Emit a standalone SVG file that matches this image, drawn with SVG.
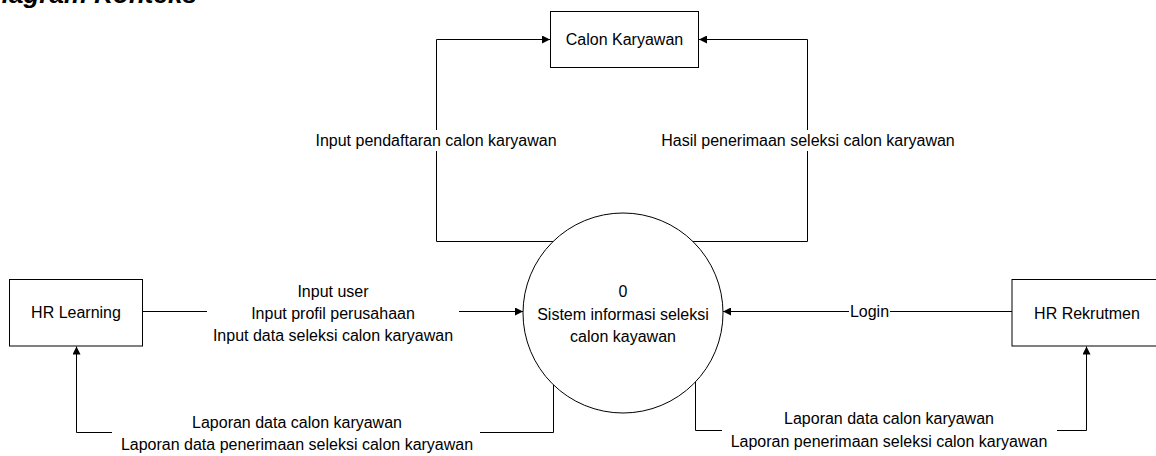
<svg xmlns="http://www.w3.org/2000/svg" width="1156" height="456" viewBox="0 0 1156 456">
<style>
text{font-family:"Liberation Sans",Arial,sans-serif;font-size:16px;fill:#000;text-anchor:middle}
.title{font-size:26px;font-weight:bold;font-style:italic;text-anchor:start}
.box{fill:#fff;stroke:#000;stroke-width:1}
.edge{fill:none;stroke:#000;stroke-width:1}
.bg{fill:#fff;stroke:none}
</style>
<defs>
<marker id="arr" viewBox="0 0 10 10" refX="10" refY="5" markerWidth="9" markerHeight="8" markerUnits="userSpaceOnUse" orient="auto">
<path d="M0,0 L10,5 L0,10 z" fill="#000"/>
</marker>
</defs>
<rect width="1156" height="456" fill="#fff"/>
<text class="title" x="-17" y="3">Diagram Konteks</text>
<g id="connectors">
<path class="edge" d="M143,311.5 H523" marker-end="url(#arr)"/>
<rect class="bg" x="207" y="280" width="252" height="66"/>
<text x="333" y="297">Input user</text>
<text x="333" y="319">Input profil perusahaan</text>
<text x="333" y="341">Input data seleksi calon karyawan</text>

<path class="edge" d="M553.5,384 V432.5 H76.5 V346.5" marker-end="url(#arr)"/>
<rect class="bg" x="112" y="414" width="368" height="42"/>
<text x="297" y="428">Laporan data calon karyawan</text>
<text x="297" y="450">Laporan data penerimaan seleksi calon karyawan</text>

<path class="edge" d="M1012,311.5 H723" marker-end="url(#arr)"/>
<rect class="bg" x="849" y="302" width="41" height="18"/>
<text x="869.5" y="317">Login</text>

<path class="edge" d="M695.5,382 V430.5 H1086.5 V346.5" marker-end="url(#arr)"/>
<rect class="bg" x="722" y="410" width="335" height="42"/>
<text x="889" y="424">Laporan data calon karyawan</text>
<text x="889" y="446.5">Laporan penerimaan  seleksi calon karyawan</text>

<path class="edge" d="M554,241.5 H436.5 V39.5 H550" marker-end="url(#arr)"/>
<rect class="bg" x="306" y="130" width="260" height="21"/>
<text x="436" y="146">Input pendaftaran calon karyawan</text>

<path class="edge" d="M692,241.5 H807.5 V39.5 H699" marker-end="url(#arr)"/>
<rect class="bg" x="654" y="130" width="308" height="21"/>
<text x="808" y="146">Hasil penerimaan seleksi calon karyawan</text>
</g>
<g id="calon-karyawan">
<rect class="box" x="550.5" y="11.5" width="148" height="56"/>
<text x="624.5" y="45">Calon Karyawan</text>
</g>
<g id="hr-learning">
<rect class="box" x="9.5" y="279.5" width="133" height="66.5"/>
<text x="76" y="318">HR Learning</text>
</g>
<g id="hr-rekrutmen">
<rect class="box" x="1012" y="279.5" width="150" height="66.5"/>
<text x="1087" y="319">HR Rekrutmen</text>
</g>
<g id="sistem">
<circle class="box" cx="623" cy="313" r="100"/>
<text x="623" y="297">0</text>
<text x="623" y="319.5">Sistem informasi seleksi</text>
<text x="623" y="342">calon kayawan</text>
</g>
</svg>
